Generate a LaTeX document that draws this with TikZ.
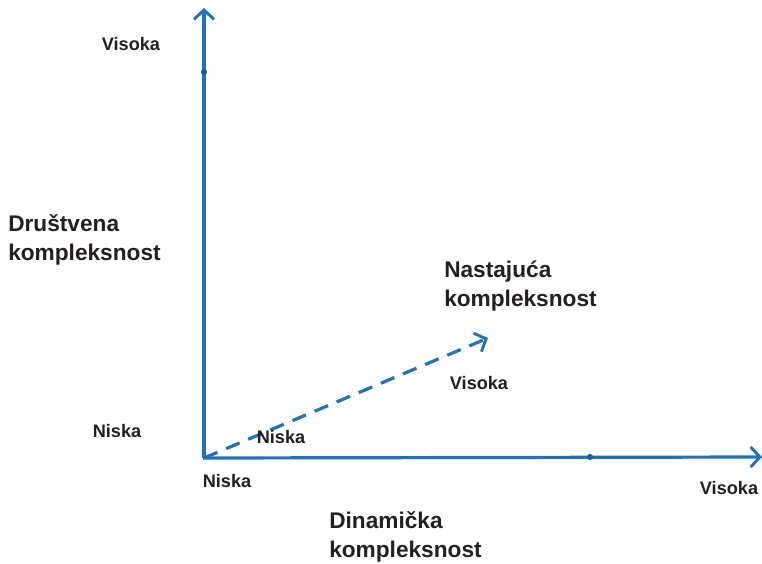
\documentclass[tikz,border=0pt]{standalone}
\usepackage{fontspec}
\setmainfont{Liberation Sans}
\usetikzlibrary{arrows.meta}
\definecolor{axisblue}{HTML}{1F72BE}
\definecolor{txt}{HTML}{231F20}
\begin{document}
\begin{tikzpicture}[x=0.75pt,y=-0.75pt,
  axis/.style={draw=axisblue,line width=2.4pt,
    -{Straight Barb[length=7pt,width=15pt,line width=2.2pt]}},
  dashaxis/.style={axis,dash pattern=on 11pt off 7pt},
  lbl/.style={font=\bfseries\fontsize{13.6}{16}\selectfont,text=txt,inner sep=0pt},
  ttl/.style={font=\bfseries\fontsize{17}{21.5}\selectfont,text=txt,inner sep=0pt,
    align=left,anchor=west},
  tick/.style={circle,fill=axisblue!85!black,inner sep=0pt,minimum size=4.6pt}]
\useasboundingbox (0,0) rectangle (762,563);

% axes
\coordinate (O) at (204,458);
\coordinate (Ytop) at (204,8);
\coordinate (Xend) at (762,457);
\coordinate (Zend) at (488,338);
\draw[axis] (O) -- (Ytop);
\draw[axis] (203,458) -- (Xend);
\draw[dashaxis] (O) -- (Zend);

% small marks on the axes
\node[tick] (my) at (204,72) {};
\node[tick] (mx) at (590,457) {};

% level labels
\node[lbl] (yhi) at (131,44) {Visoka};
\node[lbl] (ylo) at (117,431) {Niska};
\node[lbl] (xlo) at (227,481) {Niska};
\node[lbl] (xhi) at (729,488) {Visoka};
\node[lbl] (zlo) at (281,437) {Niska};
\node[lbl] (zhi) at (479,383) {Visoka};

% axis titles
\node[ttl] (ytitle) at (8,240) {Društvena\\kompleksnost};
\node[ttl] (ztitle) at (444,286) {Nastajuća\\kompleksnost};
\node[ttl] (xtitle) at (329,537) {Dinamička\\kompleksnost};
\end{tikzpicture}
\end{document}
